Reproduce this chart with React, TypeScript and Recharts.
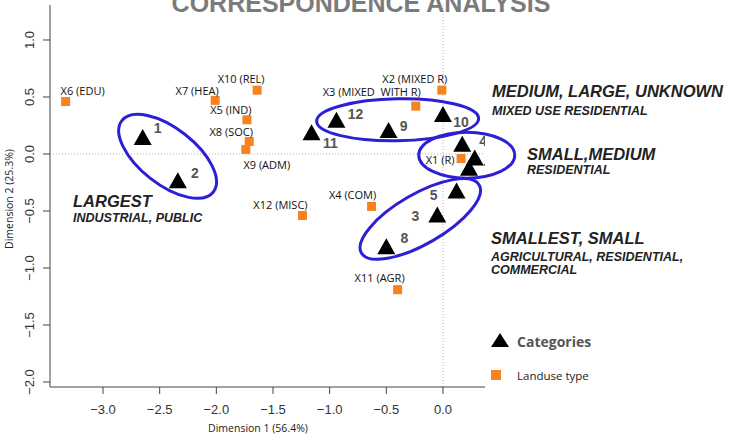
import React from 'react';
import { ScatterChart, Scatter, XAxis, YAxis, ReferenceLine, ReferenceDot } from 'recharts';

// category points (triangles)
const categoryNames = ['1', '2', '3', '4', '5', '6', '7', '8', '9', '10', '11', '12'];
const categoryX = [-2.65, -2.34, -0.05, 0.17, 0.12, 0.28, 0.23, -0.5, -0.48, 0.0, -1.16, -0.94];
const categoryY = [0.15, -0.23, -0.53, 0.09, -0.32, -0.03, -0.12, -0.81, 0.21, 0.35, 0.19, 0.3];

// landuse type points (squares)
const landuseNames = [
  'X1 (R)', 'X2 (MIXED R)', 'X3 (MIXED  WITH R)', 'X4 (COM)', 'X5 (IND)', 'X6 (EDU)',
  'X7 (HEA)', 'X8 (SOC)', 'X9 (ADM)', 'X10 (REL)', 'X11 (AGR)', 'X12 (MISC)',
];
const landuseX = [0.16, -0.01, -0.24, -0.63, -1.73, -3.33, -2.01, -1.71, -1.74, -1.64, -0.4, -1.24];
const landuseY = [-0.04, 0.56, 0.42, -0.46, 0.3, 0.46, 0.47, 0.11, 0.04, 0.56, -1.19, -0.54];

// cluster ellipse centres
const groupX = [-2.43, -0.4, 0.21, -0.2];
const groupY = [-0.02, 0.3, -0.01, -0.57];

const xTicks = [-3, -2.5, -2, -1.5, -1, -0.5, 0];
const yTicks = [-2, -1.5, -1, -0.5, 0, 0.5, 1];

const categories = categoryNames.map((name, i) => ({ name, x: categoryX[i], y: categoryY[i] }));
const landuse = landuseNames.map((name, i) => ({ name, x: landuseX[i], y: landuseY[i] }));

// label placement, pixels from the marker
const catLabelOffset: Record<string, [number, number]> = {
  '1': [15, -9], '2': [17, -7], '3': [-22, 2], '4': [21, -3], '5': [-23, 4], '6': [20, -2],
  '7': [18, 1], '8': [18, -8], '9': [15, -4], '10': [18, 8], '11': [19, 11], '12': [19, -6],
};
const landLabelOffset: Record<string, [number, number]> = {
  'X1 (R)': [-21, 1], 'X2 (MIXED R)': [-27, -11], 'X3 (MIXED  WITH R)': [-44, -14],
  'X4 (COM)': [-19, -11], 'X5 (IND)': [-16, -10], 'X6 (EDU)': [17, -11], 'X7 (HEA)': [-18, -9],
  'X8 (SOC)': [-18, -9], 'X9 (ADM)': [21, 16], 'X10 (REL)': [-16, -11], 'X11 (AGR)': [-18, -12],
  'X12 (MISC)': [-22, -11],
};
const ellipseShape = [
  { rx: 58, ry: 28, angle: 38 },
  { rx: 81, ry: 21, angle: -1 },
  { rx: 48, ry: 23, angle: 0 },
  { rx: 68, ry: 25, angle: -30 },
];

const FONT = '"Liberation Sans", Arial, sans-serif';
const LABEL_FONT = '"Open Sans", sans-serif';
const ORANGE = '#f7821e';
const BLUE = '#2c1fd6';

const fmt = (v: number) => v.toFixed(1).replace('-', '\u2212');

const Triangle = (props: any) => {
  const { cx, cy, payload } = props;
  const w = 18;
  const h = 16;
  const [dx, dy] = catLabelOffset[payload.name] || [15, 0];
  return (
    <g>
      <polygon
        points={`${cx},${cy - h / 2} ${cx + w / 2},${cy + h / 2} ${cx - w / 2},${cy + h / 2}`}
        fill="#000"
      />
      <text x={cx + dx} y={cy + dy} dy="0.36em" textAnchor="middle" fontSize={14} fontWeight="bold" fill="#555" fontFamily={FONT}>
        {payload.name}
      </text>
    </g>
  );
};

const Square = (props: any) => {
  const { cx, cy, payload } = props;
  const s = 9;
  const [dx, dy] = landLabelOffset[payload.name] || [0, -10];
  return (
    <g>
      <rect x={cx - s / 2} y={cy - s / 2} width={s} height={s} fill={ORANGE} />
      <text x={cx + dx} y={cy + dy} dy="0.36em" textAnchor="middle" fontSize={11} fill="#111" fontFamily={LABEL_FONT} style={{ whiteSpace: 'pre' }}>
        {payload.name}
      </text>
    </g>
  );
};

const XTick = (props: any) => {
  const { x, y, payload } = props;
  return (
    <text x={x} y={y} dy={18} textAnchor="middle" fontSize={13} fill="#333" fontFamily={FONT}>
      {fmt(payload.value)}
    </text>
  );
};

const YTick = (props: any) => {
  const { x, y, payload } = props;
  return (
    <text transform={`translate(${x - 7},${y}) rotate(-90)`} textAnchor="middle" fontSize={13} fill="#333" fontFamily={FONT}>
      {fmt(payload.value)}
    </text>
  );
};

const big = { fontFamily: FONT, fontWeight: 'bold' as const, fontStyle: 'italic' as const, fontSize: 16.5, fill: '#222' };
const small = { fontFamily: FONT, fontWeight: 'bold' as const, fontStyle: 'italic' as const, fontSize: 12.5, fill: '#222' };

export default function App() {
  return (
    <div style={{ position: 'absolute', left: 0, top: 0, width: 729, height: 437, background: '#fff' }}>
      <ScatterChart width={729} height={437} margin={{ top: 5, right: 244, bottom: 10, left: 10 }}>
        <XAxis
          type="number"
          dataKey="x"
          domain={[-3.468, 0.371]}
          ticks={xTicks}
          allowDataOverflow
          height={40}
          tickSize={7}
          stroke="#444"
          tick={<XTick />}
        />
        <YAxis
          type="number"
          dataKey="y"
          domain={[-2.044, 1.307]}
          ticks={yTicks}
          allowDataOverflow
          width={40}
          tickSize={7}
          stroke="#444"
          tick={<YTick />}
        />
        <ReferenceLine x={0} stroke="#b5b5b5" strokeDasharray="1 2" />
        <ReferenceLine y={0} stroke="#b5b5b5" strokeDasharray="1 2" />
        {groupX.map((gx, i) => (
          <ReferenceDot
            key={i}
            x={gx}
            y={groupY[i]}
            r={1}
            ifOverflow="visible"
            shape={(p: any) => (
              <ellipse
                cx={p.cx}
                cy={p.cy}
                rx={ellipseShape[i].rx}
                ry={ellipseShape[i].ry}
                transform={`rotate(${ellipseShape[i].angle} ${p.cx} ${p.cy})`}
                fill="none"
                stroke={BLUE}
                strokeWidth={3}
              />
            )}
          />
        ))}
        <Scatter name="Landuse type" data={landuse} shape={<Square />} isAnimationActive={false} />
        <Scatter name="Categories" data={categories} shape={<Triangle />} isAnimationActive={false} />
      </ScatterChart>

      <svg width={729} height={437} style={{ position: 'absolute', left: 0, top: 0, pointerEvents: 'none' }}>
        <text x={361} y={12} textAnchor="middle" fontFamily={FONT} fontWeight="bold" fontSize={25} fill="#7b7b7b">
          CORRESPONDENCE ANALYSIS
        </text>

        <text x={492} y={97} {...big}>MEDIUM, LARGE, UNKNOWN</text>
        <text x={492} y={114.5} {...small}>MIXED USE RESIDENTIAL</text>
        <text x={527} y={160} {...big}>SMALL,MEDIUM</text>
        <text x={527} y={174} {...small}>RESIDENTIAL</text>
        <text x={491} y={244} {...big}>SMALLEST, SMALL</text>
        <text x={491} y={260.5} {...small}>AGRICULTURAL, RESIDENTIAL,</text>
        <text x={491} y={273.5} {...small}>COMMERCIAL</text>
        <text x={73} y={207} {...big}>LARGEST</text>
        <text x={73} y={221.5} {...small}>INDUSTRIAL, PUBLIC</text>

        <text x={258} y={432} textAnchor="middle" fontFamily={LABEL_FONT} fontSize={10.5} fill="#222">
          Dimension 1 (56.4%)
        </text>
        <text transform="translate(13,199) rotate(-90)" textAnchor="middle" fontFamily={LABEL_FONT} fontSize={10.5} fill="#222">
          Dimension 2 (25.3%)
        </text>

        <polygon points="500,333 509,347 491,347" fill="#000" />
        <text x={517} y={347} fontFamily={LABEL_FONT} fontWeight="bold" fontSize={14} fill="#555">Categories</text>
        <rect x={491} y={370} width={10} height={10} fill={ORANGE} />
        <text x={517} y={380} fontFamily={LABEL_FONT} fontSize={11.5} fill="#222">Landuse type</text>
      </svg>
    </div>
  );
}
